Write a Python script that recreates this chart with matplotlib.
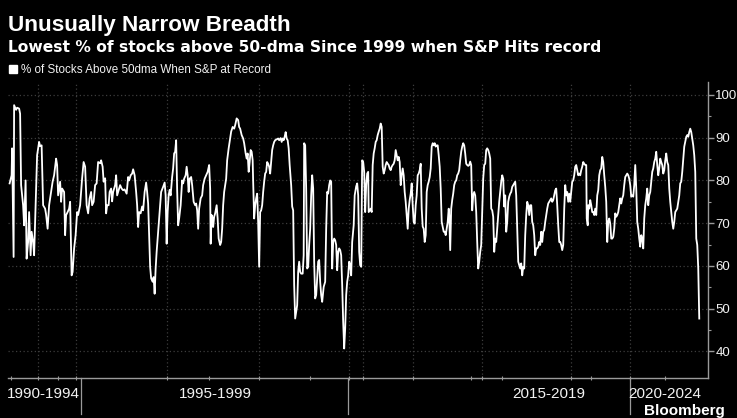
import matplotlib
matplotlib.use("Agg")
import matplotlib.pyplot as plt
from matplotlib import font_manager
from matplotlib.lines import Line2D
from matplotlib.transforms import blended_transform_factory

# Record-day counter and % of S&P 500 members above their 50-day average on that day
record_no = [
    0, 4, 5, 8, 9, 13, 15, 19, 21, 23, 27, 29, 32, 34, 37, 39, 42, 44, 47, 49,
    55, 59, 61, 64, 67, 71, 73, 76, 79, 83, 86, 89, 93, 95, 97, 101, 103, 105, 109, 111,
    113, 116, 119, 121, 124, 126, 129, 132, 135, 137, 141, 145, 148, 151, 154, 157, 160, 163, 165, 168,
    171, 174, 177, 181, 183, 186, 188, 191, 193, 195, 198, 200, 203, 205, 207, 211, 213, 215, 218, 221,
    224, 227, 230, 234, 237, 239, 242, 245, 247, 250, 253, 255, 257, 259, 262, 265, 267, 270, 273, 275,
    277, 279, 281, 283, 286, 288, 290, 292, 294, 296, 299, 301, 303, 307, 310, 312, 314, 316, 318, 320,
    322, 325, 327, 329, 331, 333, 335, 337, 339, 342, 345, 347, 349, 352, 354, 356, 358, 360, 363, 365,
    368, 371, 373, 375, 377, 379, 382, 385, 387, 390, 393, 396, 399, 401, 402, 404, 406, 407, 409, 411,
    414, 416, 418, 421, 423, 425, 427, 429, 433, 435, 438, 441, 443, 446, 449, 451, 454, 457, 459, 461,
    464, 467, 469, 472, 474, 476, 478, 480, 482, 484, 486, 487, 489, 491, 493, 495, 497, 499, 501, 503,
    505, 507, 509, 511, 513, 515, 517, 519, 521, 523, 525, 527, 529, 531, 534, 537, 539, 542, 544, 546,
    548, 550, 552, 554, 556, 558, 560, 563, 565, 567, 569, 571, 573, 575, 577, 579, 581, 583, 586, 588,
    589, 591, 593, 595, 597, 599, 601, 603, 605, 607, 609, 611, 613, 615, 617, 619, 621, 623, 625, 628,
    631, 633, 635, 637, 639, 641, 643, 645, 647, 649, 651, 653, 655, 657, 659, 661, 663, 665, 667, 669,
    671, 673, 675, 677, 679, 681, 683, 685, 688, 690, 693, 695, 697, 699, 701, 703, 705, 707, 709, 711,
    713, 715, 717, 718, 720, 722, 724, 726, 728, 730, 732, 734, 736, 738, 740, 742, 744, 746, 748, 750,
    752, 754, 756, 758, 760, 762, 764, 766, 768, 770, 772, 774, 776, 778, 780, 782, 784, 786, 788, 790,
    792, 794, 796, 798, 800, 802, 804, 806, 808, 810, 812, 814, 816, 818, 820, 822, 824, 826, 828, 830,
    832, 834, 836, 838, 840, 842, 844, 846, 848, 850, 852, 854, 856, 858, 860, 862, 864, 866, 868, 870,
    872, 874, 876, 878, 879, 881, 883, 885, 887, 889, 891, 893, 895, 897, 899, 901, 903, 905, 907, 909,
    911, 913, 915, 917, 919, 921, 923, 925, 927, 929, 931, 933, 935, 937, 939, 941, 943, 945, 947, 949,
    951, 953, 955, 957, 959, 961, 963, 965, 967, 969, 971, 973, 975, 977, 979, 981, 983, 985, 987, 989,
    991, 993, 995, 997, 999, 1001, 1003, 1005, 1007, 1009, 1011, 1013, 1015, 1017, 1019, 1021, 1023, 1025, 1027, 1029,
    1031, 1033, 1035, 1037, 1039, 1041, 1043, 1045, 1047, 1049, 1051, 1053, 1055, 1057, 1059, 1061, 1063, 1065, 1067, 1069,
    1071, 1073, 1075, 1077, 1079, 1081, 1083, 1085, 1087, 1089, 1091, 1093, 1095, 1097, 1099, 1101, 1103, 1105, 1107, 1109,
    1111, 1113, 1115, 1117, 1119, 1121, 1123, 1125, 1127, 1129, 1131, 1133, 1135, 1137, 1139, 1141, 1143, 1145, 1147, 1149,
    1151, 1153, 1154, 1156, 1157, 1159, 1161, 1163, 1165, 1167, 1169, 1171, 1173, 1175, 1177, 1179, 1181, 1183, 1185, 1187,
    1189, 1191, 1193, 1195, 1197, 1199, 1201, 1203, 1205, 1207, 1209, 1211, 1213, 1215, 1217, 1219, 1221, 1223, 1225, 1227,
    1229, 1231, 1233, 1235, 1237, 1239, 1241, 1243, 1245, 1247, 1249, 1251, 1253, 1255, 1257, 1259, 1261, 1263, 1265, 1267,
    1269, 1271, 1273, 1275, 1277, 1279, 1281, 1283, 1285, 1287, 1289, 1291, 1293, 1295, 1297, 1299, 1301, 1303, 1305, 1307,
    1309, 1311, 1313, 1315, 1317, 1319, 1321, 1323, 1325, 1327, 1329, 1331, 1333, 1335, 1337, 1339, 1341, 1343, 1345, 1347,
    1349, 1351, 1353, 1355, 1357, 1359, 1361, 1363, 1365, 1367, 1369, 1371, 1373, 1375, 1377, 1379,
]
pct_above = [
    79.3, 81.2, 87.5, 62.1, 97.6, 96.5, 97.0, 96.8, 95.6, 78.9, 74.2, 69.5, 80.0, 61.7, 65.6, 72.6, 62.5, 68.0, 65.6, 62.5,
    85.9, 89.0, 88.0, 88.2, 74.2, 73.4, 72.0, 68.7, 74.2, 77.3, 79.7, 81.2, 85.1, 83.6, 76.5, 79.7, 75.0, 78.1, 77.3, 67.2,
    71.9, 72.6, 73.4, 75.0, 57.8, 58.6, 64.1, 67.2, 72.6, 71.9, 74.2, 80.5, 84.3, 83.2, 74.2, 72.3, 75.8, 77.3, 74.2, 75.0,
    78.9, 79.3, 84.3, 84.0, 84.7, 83.2, 79.7, 80.5, 72.3, 74.2, 74.2, 77.3, 78.1, 75.1, 77.3, 78.9, 81.2, 76.5, 77.7, 78.9,
    78.1, 77.7, 77.9, 76.9, 80.8, 80.0, 81.2, 81.6, 82.6, 81.2, 77.3, 74.2, 69.1, 72.6, 72.3, 73.9, 73.0, 77.3, 79.5, 77.3,
    74.6, 67.2, 59.8, 57.1, 56.3, 57.4, 53.5, 59.4, 63.3, 66.4, 71.1, 74.2, 77.3, 78.5, 79.5, 76.5, 65.2, 72.6, 76.5, 77.8,
    76.5, 80.8, 82.8, 86.3, 86.7, 89.4, 77.8, 69.5, 71.1, 74.2, 80.0, 79.3, 80.4, 81.2, 83.2, 81.2, 77.3, 80.4, 80.8, 78.9,
    75.0, 74.2, 74.6, 73.0, 68.7, 73.4, 75.8, 76.5, 78.9, 80.4, 81.2, 82.0, 83.6, 78.1, 65.2, 71.9, 71.1, 69.1, 71.5, 72.3,
    74.2, 71.1, 66.4, 64.9, 65.6, 68.7, 74.2, 77.3, 80.4, 84.7, 87.5, 89.8, 91.4, 92.5, 92.1, 92.9, 94.5, 94.1, 92.5, 92.1,
    90.6, 89.8, 88.7, 86.3, 85.1, 86.3, 82.0, 84.3, 87.1, 86.7, 84.7, 79.7, 71.1, 74.2, 75.8, 76.9, 70.3, 59.8, 72.6, 73.0,
    74.2, 77.3, 79.7, 81.6, 82.0, 84.3, 83.9, 83.2, 81.6, 84.3, 87.1, 88.2, 89.0, 89.4, 89.6, 89.8, 89.4, 89.9, 89.0, 89.8,
    89.4, 90.2, 91.3, 89.8, 89.4, 87.5, 83.6, 78.9, 73.9, 73.0, 55.5, 47.7, 49.3, 50.8, 58.6, 61.0, 58.6, 58.2, 58.2, 62.5,
    88.7, 88.2, 78.1, 59.4, 59.8, 64.9, 68.7, 76.5, 81.2, 78.1, 61.0, 52.4, 53.2, 57.1, 61.0, 61.4, 56.3, 53.2, 51.6, 55.1,
    56.3, 68.7, 77.3, 76.9, 78.9, 80.0, 79.7, 59.4, 65.6, 66.4, 66.0, 64.9, 59.0, 63.3, 64.1, 63.7, 62.5, 55.5, 46.9, 40.7,
    45.4, 53.2, 56.3, 57.8, 61.0, 60.2, 57.8, 65.6, 69.5, 76.5, 78.6, 79.3, 76.5, 63.3, 60.2, 59.8, 84.7, 84.3, 82.0, 72.6,
    78.9, 81.6, 82.0, 72.6, 73.0, 73.4, 72.6, 83.6, 86.3, 87.5, 89.0, 89.4, 90.6, 91.4, 92.1, 93.3, 92.5, 83.2, 81.6, 82.4,
    83.6, 84.3, 83.9, 83.6, 82.8, 82.4, 83.2, 83.6, 83.9, 84.7, 87.1, 85.9, 84.7, 85.5, 84.3, 78.9, 81.2, 82.8, 81.2, 77.3,
    75.0, 71.9, 68.7, 73.4, 75.4, 76.9, 79.3, 74.2, 70.3, 69.9, 74.2, 76.5, 81.2, 81.6, 82.4, 83.9, 73.4, 69.2, 68.7, 65.6,
    67.2, 77.3, 78.9, 79.7, 80.8, 82.8, 87.9, 88.7, 88.2, 88.7, 87.9, 88.2, 88.2, 85.9, 83.2, 78.1, 70.3, 69.2, 68.0, 68.0,
    67.2, 68.7, 70.3, 73.4, 71.9, 63.7, 73.4, 75.4, 76.9, 78.9, 79.7, 80.0, 81.2, 81.6, 82.4, 84.7, 86.7, 87.9, 88.7, 88.2,
    86.3, 83.9, 83.6, 83.4, 83.6, 84.4, 83.6, 73.0, 76.5, 77.3, 76.5, 72.6, 65.6, 59.4, 61.0, 63.3, 64.9, 72.6, 80.4, 83.6,
    83.9, 87.1, 87.5, 87.1, 86.3, 85.1, 73.4, 73.0, 71.5, 63.3, 66.4, 65.6, 68.7, 71.9, 75.0, 77.3, 79.7, 81.2, 80.4, 73.9,
    76.5, 68.0, 70.3, 75.0, 76.2, 76.9, 77.3, 78.5, 78.9, 79.3, 79.7, 76.5, 68.7, 61.0, 60.2, 59.4, 60.6, 57.8, 59.8, 59.4,
    67.2, 71.9, 75.0, 74.2, 71.9, 74.2, 74.2, 70.3, 69.5, 67.2, 62.5, 64.1, 64.1, 64.5, 65.6, 64.9, 68.0, 65.6, 68.0, 68.4,
    70.3, 71.9, 73.4, 74.6, 75.0, 75.4, 75.8, 75.0, 75.4, 76.5, 77.7, 78.1, 74.2, 69.5, 65.6, 65.6, 64.9, 63.7, 64.9, 73.4,
    78.9, 76.5, 77.3, 75.0, 76.9, 75.0, 77.3, 79.7, 80.0, 81.2, 83.2, 83.6, 82.4, 81.2, 81.6, 81.2, 82.4, 83.2, 84.3, 83.9,
    83.6, 83.6, 71.1, 69.5, 74.2, 73.4, 75.4, 74.2, 72.6, 72.6, 71.9, 73.4, 71.9, 76.5, 77.7, 81.2, 82.4, 82.8, 85.5, 84.3,
    81.2, 78.5, 75.0, 65.6, 70.3, 71.1, 69.9, 66.4, 66.4, 66.8, 68.7, 72.3, 71.5, 71.9, 72.6, 74.2, 75.8, 74.6, 75.8, 76.5,
    78.9, 80.8, 81.2, 81.6, 81.2, 80.4, 78.9, 76.2, 76.5, 76.2, 78.9, 83.6, 78.1, 70.3, 68.7, 66.4, 64.5, 67.2, 66.4, 64.1,
    71.1, 74.2, 75.8, 78.1, 74.2, 76.5, 77.3, 79.7, 82.0, 82.8, 84.3, 85.1, 86.7, 83.6, 81.2, 82.8, 85.1, 84.3, 83.6, 81.6,
    82.4, 84.7, 86.3, 84.3, 83.6, 78.1, 75.0, 72.6, 70.3, 68.7, 70.3, 72.6, 73.0, 73.4, 75.0, 76.5, 79.3, 79.7, 82.0, 85.1,
    87.9, 89.0, 90.2, 90.6, 90.2, 91.3, 92.1, 91.3, 89.8, 88.2, 85.9, 82.0, 66.4, 64.9, 59.4, 47.7,
]

# Year boundaries (dotted gridlines), extra axis ticks and period separators
year_marks = [57, 132, 314, 499, 679, 707, 806, 944, 1123, 1241]
minor_marks = [2, 97, 398, 601, 923, 984, 1162, 1310]
period_breaks = [143, 677, 1241]
period_labels = ["1990-1994", "1995-1999", "2015-2019", "2020-2024"]
period_label_pos = [68, 411, 1079, 1311]
y_ticks = [40, 50, 60, 70, 80, 90, 100]

names = {f.name for f in font_manager.fontManager.ttflist}
narrow = "Liberation Sans Narrow" if "Liberation Sans Narrow" in names else "Liberation Sans"

fg = "#f2f2f2"
grid_c = "#3d3d3d"
axis_c = "#9a9a9a"

fig = plt.figure(figsize=(7.37, 4.18), dpi=100, facecolor="black")
ax = fig.add_axes([0.011, 0.0957, 0.95, 0.708], facecolor="black")

ax.plot(record_no, pct_above, color="white", lw=1.3, solid_joinstyle="round")

ax.set_xlim(-3, 1397)
ax.set_ylim(33.8, 103)

for s in ("left", "top"):
    ax.spines[s].set_visible(False)
ax.spines["right"].set_color(axis_c)
ax.spines["bottom"].set_color(axis_c)
ax.spines["right"].set_linewidth(1)
ax.spines["bottom"].set_linewidth(1)

ax.yaxis.tick_right()
ax.set_yticks(y_ticks)
ax.set_yticks([45, 55, 65, 75, 85, 95], minor=True)
ax.tick_params(axis="y", which="major", colors=axis_c, length=4, width=1, pad=1,
               labelcolor=fg, labelsize=9.5)
ax.tick_params(axis="y", which="minor", colors=axis_c, length=2, width=0.8)
for lab in ax.get_yticklabels():
    lab.set_family("Liberation Sans")

ax.set_xticks(year_marks)
ax.set_xticks(minor_marks, minor=True)
ax.set_xticklabels([])
ax.tick_params(axis="x", which="both", colors=axis_c, length=3, width=0.8, direction="inout")

ax.grid(True, which="major", axis="both", color=grid_c, linestyle=(0, (1, 2)), linewidth=0.9)
ax.set_axisbelow(True)

trans = blended_transform_factory(ax.transData, ax.transAxes)
for x in period_breaks:
    ax.plot([x, x], [0, -0.12], transform=trans, color=axis_c, lw=0.9, clip_on=False)
for x, lab in zip(period_label_pos, period_labels):
    ax.text(x, -0.055, lab, transform=trans, ha="center", va="center",
            color=fg, fontsize=11, family=narrow)

fig.text(0.011, 0.926, "Unusually Narrow Breadth", color="white", fontsize=16.2,
         weight="bold", family=narrow, va="baseline")
fig.text(0.011, 0.876, "Lowest % of stocks above 50-dma Since 1999 when S&P Hits record",
         color="white", fontsize=11.2, weight="bold", family="DejaVu Sans", va="baseline")

handle = Line2D([], [], marker="s", linestyle="none", color="white", markersize=5.5)
fig.legend([handle], ["% of Stocks Above 50dma When S&P at Record"],
           loc="center left", bbox_to_anchor=(0.014, 0.832), frameon=False,
           handlelength=0.5, handletextpad=0.4, borderaxespad=0, borderpad=0,
           prop={"family": narrow, "size": 8.4}, labelcolor=fg)

fig.text(0.984, 0.006, "Bloomberg", color="white", fontsize=11, weight="bold",
         family=narrow, ha="right", va="baseline")

fig.savefig("out.png", dpi=100, facecolor="black")
